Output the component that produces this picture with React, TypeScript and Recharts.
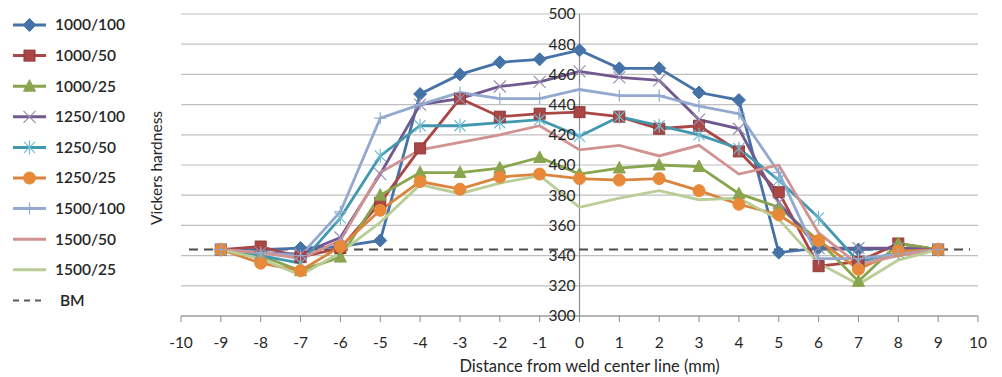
import React from "react";
import { LineChart, Line, XAxis, YAxis, CartesianGrid, ReferenceLine, Label } from "recharts";

const X_VALUES = [-9, -8, -7, -6, -5, -4, -3, -2, -1, 0, 1, 2, 3, 4, 5, 6, 7, 8, 9];

const S_1000_100 = [344, 344, 345, 346, 350, 447, 460, 468, 470, 476, 464, 464, 448, 443, 342, 345, 344, 345, 344];
const S_1000_50 = [344, 346, 339, 345, 375, 411, 444, 432, 434, 435, 432, 424, 426, 409, 382, 333, 336, 348, 344];
const S_1000_25 = [344, 340, 330, 339, 380, 395, 395, 398, 405, 394, 398, 400, 399, 381, 372, 350, 323, 348, 344];
const S_1250_100 = [344, 342, 341, 352, 394, 440, 444, 452, 455, 462, 458, 456, 430, 424, 375, 345, 345, 345, 344];
const S_1250_50 = [344, 340, 335, 365, 406, 426, 426, 428, 430, 419, 432, 426, 420, 411, 390, 365, 336, 342, 344];
const S_1250_25 = [344, 335, 330, 346, 370, 389, 384, 392, 394, 391, 390, 391, 383, 374, 367, 350, 331, 343, 344];
const S_1500_100 = [344, 342, 340, 369, 431, 440, 448, 444, 444, 450, 446, 446, 439, 434, 395, 338, 338, 341, 344];
const S_1500_50 = [344, 342, 338, 350, 395, 410, 415, 420, 426, 410, 413, 406, 413, 394, 400, 355, 334, 340, 344];
const S_1500_25 = [344, 338, 327, 342, 362, 387, 381, 388, 393, 372, 378, 383, 377, 378, 364, 335, 321, 337, 344];

const BM_VALUE = 344;
const BM_X = [-9.8, 9.8];

const X_TICKS = [-10, -9, -8, -7, -6, -5, -4, -3, -2, -1, 0, 1, 2, 3, 4, 5, 6, 7, 8, 9, 10];
const Y_TICKS = [300, 320, 340, 360, 380, 400, 420, 440, 460, 480, 500];

const SERIES = [
  { key: "s0", name: "1000/100", values: S_1000_100, color: "#4572A7", marker: "diamond", mcolor: "#4572A7" },
  { key: "s1", name: "1000/50", values: S_1000_50, color: "#AA4643", marker: "square", mcolor: "#AA4643" },
  { key: "s2", name: "1000/25", values: S_1000_25, color: "#89A54E", marker: "triangle", mcolor: "#89A54E" },
  { key: "s3", name: "1250/100", values: S_1250_100, color: "#71588F", marker: "x", mcolor: "#9A8BB0" },
  { key: "s4", name: "1250/50", values: S_1250_50, color: "#4198AF", marker: "star", mcolor: "#72BBCF" },
  { key: "s5", name: "1250/25", values: S_1250_25, color: "#DB843D", marker: "circle", mcolor: "#E8893A" },
  { key: "s6", name: "1500/100", values: S_1500_100, color: "#93A9CF", marker: "plus", mcolor: "#93A9CF" },
  { key: "s7", name: "1500/50", values: S_1500_50, color: "#D19392", marker: "none", mcolor: "#D19392" },
  { key: "s8", name: "1500/25", values: S_1500_25, color: "#B9CD96", marker: "none", mcolor: "#B9CD96" },
];

const DATA = X_VALUES.map((x, i) => {
  const row: Record<string, number> = { x };
  SERIES.forEach((s) => {
    row[s.key] = s.values[i];
  });
  return row;
});

const BM_DATA = BM_X.map((x) => ({ x, bm: BM_VALUE }));

const W = 1002;
const H = 377;
const M_LEFT = 0;
const Y_W = 181;
const M_RIGHT = 24;
const M_TOP = 14;
const X_H = 61;
const PLOT_CENTER = M_LEFT + Y_W + (W - M_LEFT - Y_W - M_RIGHT) / 2;
const FONT = "Lato, 'Open Sans', sans-serif";

function MarkerShape({ type, cx, cy, color }: { type: string; cx: number; cy: number; color: string }) {
  switch (type) {
    case "diamond":
      return <polygon points={`${cx},${cy - 6.5} ${cx + 6.5},${cy} ${cx},${cy + 6.5} ${cx - 6.5},${cy}`} fill={color} stroke={color} strokeWidth={1} />;
    case "square":
      return <rect x={cx - 5.5} y={cy - 5.5} width={11} height={11} fill={color} stroke="#8E3A38" strokeWidth={1} />;
    case "triangle":
      return <polygon points={`${cx},${cy - 6.5} ${cx + 6},${cy + 5} ${cx - 6},${cy + 5}`} fill={color} stroke={color} strokeWidth={1} />;
    case "x":
      return (
        <g stroke={color} strokeWidth={1.2}>
          <line x1={cx - 6} y1={cy - 6} x2={cx + 6} y2={cy + 6} />
          <line x1={cx - 6} y1={cy + 6} x2={cx + 6} y2={cy - 6} />
        </g>
      );
    case "star":
      return (
        <g stroke={color} strokeWidth={1.2}>
          <line x1={cx - 5.5} y1={cy - 5.5} x2={cx + 5.5} y2={cy + 5.5} />
          <line x1={cx - 5.5} y1={cy + 5.5} x2={cx + 5.5} y2={cy - 5.5} />
          <line x1={cx} y1={cy - 7} x2={cx} y2={cy + 7} />
        </g>
      );
    case "circle":
      return <circle cx={cx} cy={cy} r={6} fill={color} stroke={color} />;
    case "plus":
      return (
        <g stroke={color} strokeWidth={1.2}>
          <line x1={cx - 6} y1={cy} x2={cx + 6} y2={cy} />
          <line x1={cx} y1={cy - 6} x2={cx} y2={cy + 6} />
        </g>
      );
    default:
      return null;
  }
}

function makeDot(type: string, color: string) {
  if (type === "none") return false;
  return (props: any) => {
    const { cx, cy, index } = props;
    if (cx == null || cy == null) return <g key={`d-${index}`} />;
    return (
      <g key={`d-${type}-${index}`}>
        <MarkerShape type={type} cx={cx} cy={cy} color={color} />
      </g>
    );
  };
}

const YTick = (props: any) => {
  const { y, payload } = props;
  return (
    <text x={PLOT_CENTER - 4} y={y} dy="0.35em" textAnchor="end" fontSize={15.5} fontFamily={FONT} fill="#262626">
      {payload.value}
    </text>
  );
};

const LEGEND_TOP = 25;
const LEGEND_STEP = 30.6;

function LegendBox() {
  const items = [...SERIES.map((s) => ({ name: s.name, color: s.color, marker: s.marker, mcolor: s.mcolor, dash: false })), { name: "BM", color: "#595959", marker: "none", mcolor: "#595959", dash: true }];
  return (
    <svg width={160} height={330} style={{ position: "absolute", left: 0, top: 0 }}>
      {items.map((it, i) => {
        const cy = LEGEND_TOP + i * LEGEND_STEP;
        return (
          <g key={it.name}>
            <line x1={13} y1={cy} x2={46} y2={cy} stroke={it.color} strokeWidth={it.dash ? 2 : 3} strokeDasharray={it.dash ? "6 5" : undefined} />
            <MarkerShape type={it.marker} cx={29.5} cy={cy} color={it.mcolor} />
            <text x={it.dash ? 60 : 55} y={cy} dy="0.35em" fontSize={15.5} fontFamily={FONT} fontWeight={600} fill="#262626">
              {it.name}
            </text>
          </g>
        );
      })}
    </svg>
  );
}

export default function App() {
  return (
    <div style={{ position: "absolute", left: 0, top: 0, width: W, height: H, background: "#fff" }}>
      <LineChart width={W} height={H} data={DATA} margin={{ top: M_TOP, right: M_RIGHT, bottom: 0, left: M_LEFT }}>
        <CartesianGrid vertical={false} stroke="#BFBFBF" strokeWidth={1.2} />
        <XAxis
          dataKey="x"
          type="number"
          domain={[-10, 10]}
          ticks={X_TICKS}
          interval={0}
          height={X_H}
          stroke="#8C8C8C"
          tickSize={6}
          tickMargin={15}
          tick={{ fontSize: 15.5, fontFamily: FONT, fill: "#262626" }}
          allowDataOverflow
        >
          <Label
            content={() => (
              <text x={PLOT_CENTER + 10} y={H - 5} textAnchor="middle" fontSize={16.5} fontFamily={FONT} fill="#262626">
                Distance from weld center line (mm)
              </text>
            )}
          />
        </XAxis>
        <YAxis
          type="number"
          domain={[300, 500]}
          ticks={Y_TICKS}
          width={Y_W}
          axisLine={false}
          tickLine={false}
          tick={<YTick />}
        >
          <Label
            content={(p: any) => {
              const vb = p.viewBox;
              const x = vb.x + vb.width - 19;
              const y = vb.y + vb.height / 2 + 3;
              return (
                <text x={x} y={y} transform={`rotate(-90, ${x}, ${y})`} textAnchor="middle" fontSize={15.5} fontFamily={FONT} fill="#262626">
                  Vickers hardness
                </text>
              );
            }}
          />
        </YAxis>
        <ReferenceLine x={0} stroke="#8C8C8C" strokeWidth={1.2} />
        <Line data={BM_DATA} dataKey="bm" stroke="#4D4D4D" strokeWidth={2} strokeDasharray="9 6" dot={false} isAnimationActive={false} />
        {SERIES.map((s) => (
          <Line
            key={s.key}
            dataKey={s.key}
            name={s.name}
            stroke={s.color}
            strokeWidth={2.8}
            dot={makeDot(s.marker, s.mcolor) as any}
            activeDot={false}
            isAnimationActive={false}
          />
        ))}
      </LineChart>
      <LegendBox />
    </div>
  );
}
